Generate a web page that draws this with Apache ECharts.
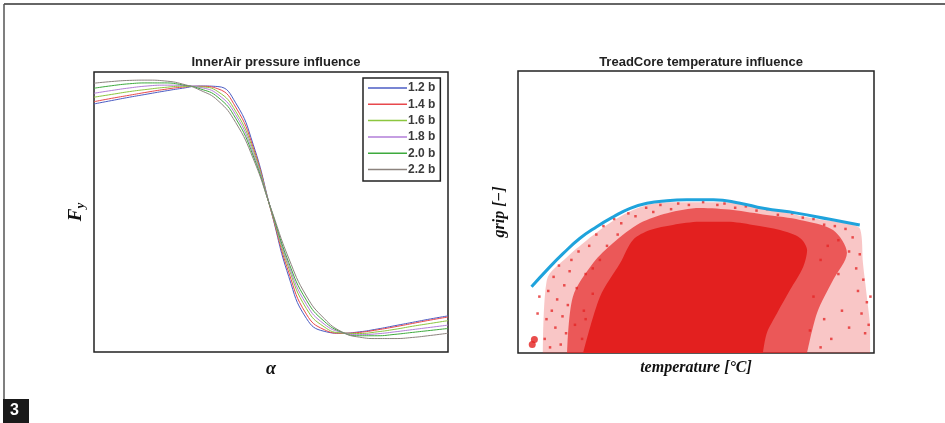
<!DOCTYPE html>
<html>
<head>
<meta charset="utf-8">
<script src="https://cdn.jsdelivr.net/npm/echarts@6/dist/echarts.min.js"></script>
<style>html,body{margin:0;padding:0;background:#fff;}#c{width:945px;height:423px;}</style>
</head>
<body>
<div id="c"></div>
<script>
// ---- Left panel: Fy vs alpha for several inflation pressures ----
const alphaX = [0,5,10,15,20,25,30,35,40,45,50,55,60,65,70,75,80,85,90,95,100];
const pressureNames = ['1.2 b','1.4 b','1.6 b','1.8 b','2.0 b','2.2 b'];
const fy12 = [88.6,89.8,91.0,92.1,93.2,94.2,95.0,94.8,89.0,74.0,50.5,27.0,12.0,7.4,6.7,7.2,8.2,9.4,10.6,11.8,12.9];
const fy14 = [89.4,90.6,91.7,92.8,93.8,94.6,94.9,94.0,87.5,73.0,50.5,28.5,13.5,8.0,6.7,7.0,7.9,9.0,10.2,11.4,12.5];
const fy16 = [91.0,92.0,93.0,93.8,94.5,94.9,94.7,93.0,86.0,72.0,50.8,30.0,15.5,9.0,6.8,6.6,7.2,8.1,9.2,10.2,11.2];
const fy18 = [92.4,93.4,94.3,95.0,95.3,95.2,94.5,92.0,84.8,71.0,51.0,31.0,17.0,10.0,7.0,6.2,6.5,7.2,8.0,8.8,9.6];
const fy20 = [94.2,95.1,95.8,96.1,96.1,95.4,94.0,91.0,83.5,70.0,51.0,32.0,18.5,11.0,7.1,5.8,5.8,6.3,7.0,7.7,8.4];
const fy22 = [96.0,96.6,97.0,97.1,96.8,95.7,93.5,89.8,82.0,69.0,51.2,33.5,20.0,12.0,7.2,5.3,4.8,4.8,5.2,5.9,6.7];
const pressureColors = ['#4b5cc4','#e8484c','#8cc63f','#b27ed8','#3daa3d','#8c837e'];

// ---- Right panel: grip vs temperature ----
const gripCurveX = [3.8,8.1,12.7,17.4,22.1,26.8,31.5,36.2,41.8,47.4,54.9,62.4,68.9,78.3,87.6,96.0];
const gripCurveY = [23.5,29.4,35.3,40.7,44.8,48.3,51.3,53.1,54.0,54.3,54.3,53.1,51.3,49.6,47.4,45.4];
// envelopes of the measured point cloud (outer sparse, middle, dense core)
const outerX = [7.0,8.1,13.8,19.4,25.8,32.3,39.0,46.3,55.9,65.2,74.4,84.0,93.3,96.1,96.9,98.0,98.9,98.9];
const outerY = [0,25.9,34.0,40.1,46.1,50.7,53.2,53.5,53.5,52.5,50.0,47.5,45.7,44.0,31.9,19.9,8.2,0];
const midX = [13.8,15.4,21.1,26.7,34.3,41.9,51.1,60.4,69.9,79.2,88.5,92.4,88.5,84.0,81.2];
const midY = [0,19.9,31.9,39.0,46.1,49.6,51.4,50.7,48.9,47.2,43.6,35.5,25.9,14.2,0];
const coreX = [18.3,23.0,28.7,32.3,37.1,43.5,51.1,58.7,66.0,73.6,79.2,81.2,80.1,76.4,72.8,69.9,68.8];
const coreY = [0,19.9,31.9,40.1,43.6,45.4,46.5,46.5,45.4,43.6,40.8,36.5,30.5,22.3,14.2,7.1,0];
// individual sparse points read around the cloud edge
const speckX = [7.5,8,8.5,9,9.5,10,10.5,11,11.5,12,12.5,13,13.5,14,14.5,15,16,16.5,17,18,18.5,19,20,21,22,23,
  24,27,29,31,33,36,38,40,43,45,48,52,56,58,61,64,67,70,73,77,80,83,86,89,
  90,92,93,94,95,95.5,96,96.5,97,97.5,98,93,91,90,88,86,85,85,87,83,82,19,21,25,28,5.5,6,99,98.5];
const speckY = [5,12,22,2,15,27,9,19,31,3,13,24,7,17,29,33,10,23,36,5,15,28,38,21,42,33,
  45,47.5,46,49.5,48.5,51.5,50,52.5,51,53,52.5,53.5,52.5,53,51.5,52,50.5,51,49,49.5,48,47.5,45.5,45,
  40,44,36,41,30,22,35,14,26,7,18,9,15,28,5,12,2,33,38,20,8,12,30,38,42,14,20,20,10];
const blobX = [4.0,4.6];
const blobY = [3.0,4.8];

const zip = (a,b) => a.map((v,i)=>[v,b[i]]);
const fySeries = [fy12,fy14,fy16,fy18,fy20,fy22];

const serif = 'Liberation Serif';
const sans = 'Liberation Sans';

const chart = echarts.init(document.getElementById('c'), null, {renderer:'canvas'});

const hiddenAxis = (gi, extra) => Object.assign({
  type:'value', gridIndex:gi, min:0, max:100,
  axisLine:{show:false}, axisTick:{show:false}, axisLabel:{show:false}, splitLine:{show:false}
}, extra||{});

const series = [];
fySeries.forEach((arr,i)=>{
  series.push({
    name: pressureNames[i], type:'line', xAxisIndex:0, yAxisIndex:0,
    data: zip(alphaX, arr), smooth:0.5, symbol:'none',
    lineStyle:{width:1, color:pressureColors[i]}, itemStyle:{color:pressureColors[i]}
  });
});
const area = (xs, ys, color) => ({
  type:'line', xAxisIndex:1, yAxisIndex:1, data: zip(xs, ys), smooth:0.3, symbol:'none',
  lineStyle:{width:0}, areaStyle:{color:color, opacity:1, origin:'start'}, silent:true
});
series.push(area(outerX, outerY, 'rgba(232,50,50,0.28)'));
series.push(area(midX, midY, 'rgba(228,36,36,0.68)'));
series.push(area(coreX, coreY, '#e3201f'));
series.push({type:'scatter', xAxisIndex:1, yAxisIndex:1, data: zip(speckX, speckY), symbol:'rect', symbolSize:2.5, itemStyle:{color:'#e42a2a'}});
series.push({type:'scatter', xAxisIndex:1, yAxisIndex:1, data: zip(blobX, blobY), symbolSize:7, itemStyle:{color:'#e3201f'}});
series.push({type:'line', xAxisIndex:1, yAxisIndex:1, data: zip(gripCurveX, gripCurveY), smooth:0.5, symbol:'none',
  lineStyle:{width:3, color:'#1fa3dc'}});

const nameStyle = {fontFamily:serif, fontStyle:'italic', fontWeight:'bold', fontSize:16, color:'#111'};

chart.setOption({
  animation:false,
  backgroundColor:'#fff',
  title:[
    {text:'InnerAir pressure influence', left:271, top:51, textAlign:'center',
     textStyle:{fontFamily:sans, fontWeight:'bold', fontSize:13, color:'#222'}},
    {text:'TreadCore temperature influence', left:696, top:51, textAlign:'center',
     textStyle:{fontFamily:sans, fontWeight:'bold', fontSize:13, color:'#222'}}
  ],
  grid:[
    {left:94, top:72, width:354, height:280, show:true, borderColor:'#222', borderWidth:1.5, backgroundColor:'#fff'},
    {left:518, top:71, width:356, height:282, show:true, borderColor:'#222', borderWidth:1.5, backgroundColor:'#fff'}
  ],
  xAxis:[
    hiddenAxis(0, {name:'α', nameLocation:'middle', nameGap:8,
      nameTextStyle:Object.assign({}, nameStyle, {fontSize:18})}),
    hiddenAxis(1, {name:'temperature [°C]', nameLocation:'middle', nameGap:7, nameTextStyle:nameStyle})
  ],
  yAxis:[
    hiddenAxis(0, {name:'{F|F}{s|y}', nameLocation:'middle', nameGap:7, nameRotate:90,
      nameTextStyle:{rich:{
        F:{fontFamily:serif, fontStyle:'italic', fontWeight:'bold', fontSize:19, color:'#111'},
        s:{fontFamily:serif, fontStyle:'italic', fontWeight:'bold', fontSize:13, color:'#111', padding:[9,0,0,0]}
      }}}),
    hiddenAxis(1, {name:'grip [−]', nameLocation:'middle', nameGap:10, nameRotate:90, nameTextStyle:nameStyle})
  ],
  legend:{
    data: pressureNames, orient:'vertical', left:363, top:78,
    padding:[4,5,5.5,5], itemGap:4.3, itemWidth:39, itemHeight:1.5, icon:'rect',
    borderColor:'#222', borderWidth:1.5, backgroundColor:'#fff',
    textStyle:{fontFamily:sans, fontSize:12, lineHeight:12, fontWeight:'bold', color:'#3a3a3a', padding:[0,0,0,-4]}
  },
  graphic:[
    {type:'line', shape:{x1:4, y1:4, x2:945, y2:4}, style:{stroke:'#333', lineWidth:1.5}},
    {type:'line', shape:{x1:4, y1:4, x2:4, y2:399}, style:{stroke:'#555', lineWidth:1.5}},
    {type:'rect', shape:{x:3, y:399, width:26, height:24}, style:{fill:'#1a1a1a'}},
    {type:'text', left:10, top:403, style:{text:'3', fill:'#fff', font:'bold 16px Liberation Sans'}}
  ],
  series: series
});
</script>
</body>
</html>
